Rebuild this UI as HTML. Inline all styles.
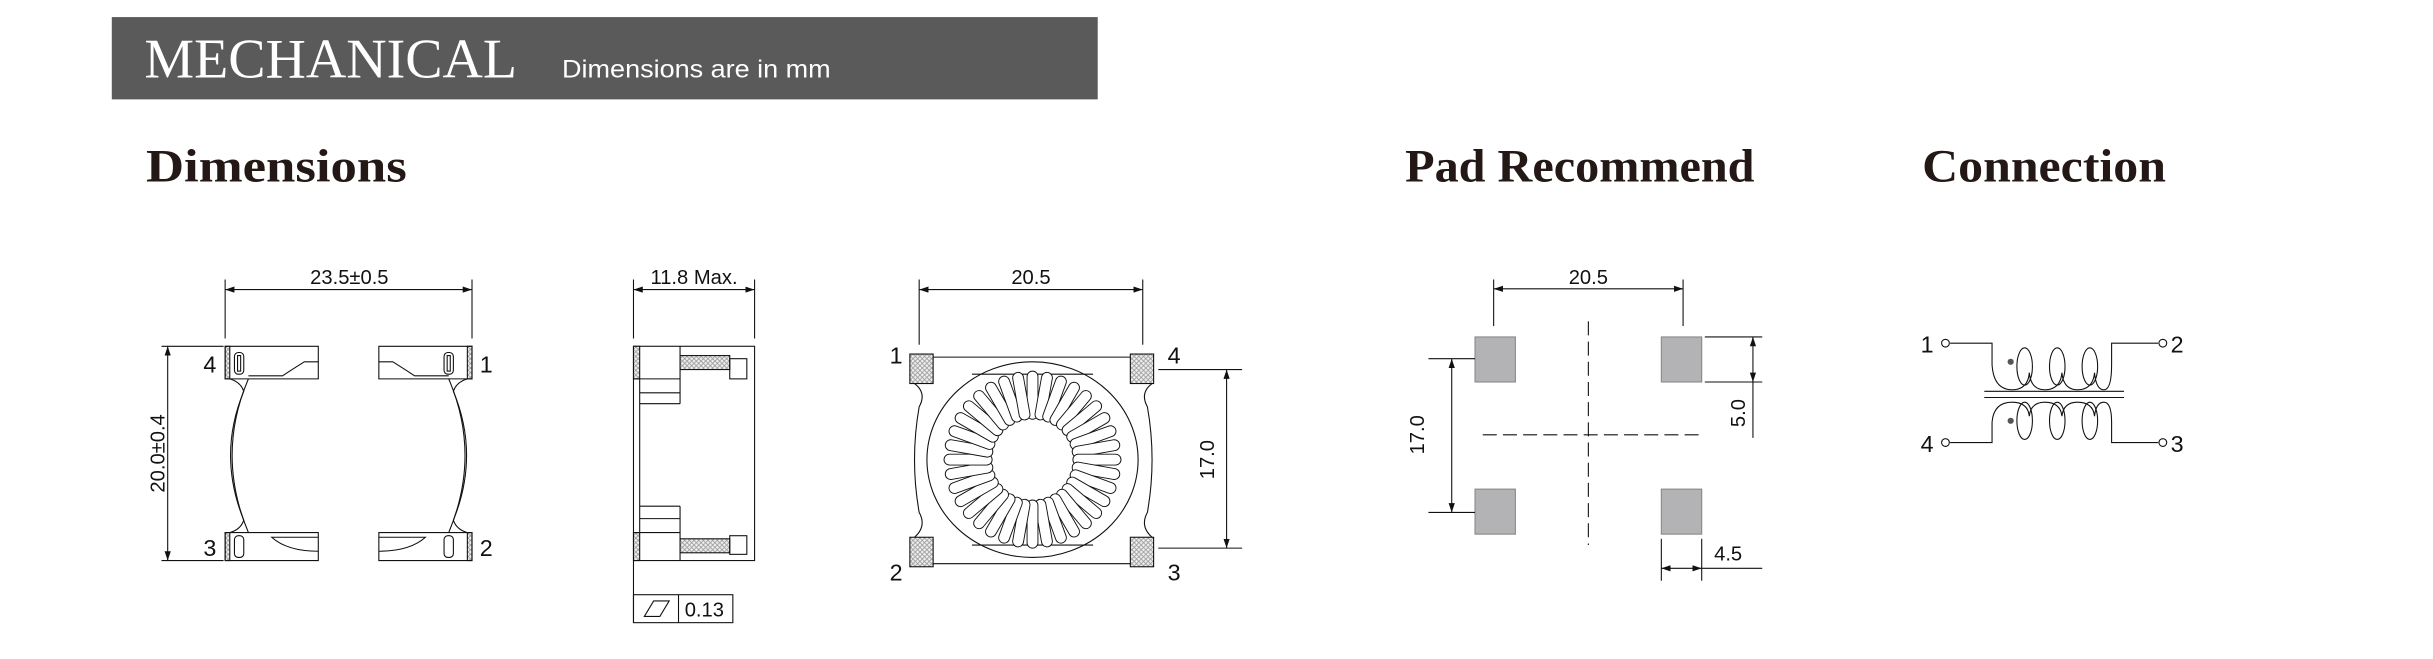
<!DOCTYPE html>
<html><head><meta charset="utf-8"><style>
html,body{margin:0;padding:0;background:#fff;width:2433px;height:659px;overflow:hidden}
svg{display:block}
.t{font-family:"Liberation Sans",sans-serif;font-size:13px;fill:#111}
.h{font-family:"Liberation Serif",serif;font-weight:bold;font-size:30px;fill:#231815}
</style></head><body>
<svg width="2433" height="659" viewBox="0 0 1567 424.4" preserveAspectRatio="none" xmlns="http://www.w3.org/2000/svg">
<defs>
<pattern id="hx" width="3" height="3" patternUnits="userSpaceOnUse">
<rect width="3" height="3" fill="#eee"/>
<path d="M0,0L3,3M3,0L0,3" stroke="#999" stroke-width="0.5"/>
</pattern>
<marker id="ar" markerWidth="6" markerHeight="4" refX="6" refY="2" orient="auto-start-reverse" markerUnits="userSpaceOnUse"><path d="M0,0L6,2L0,4z" fill="#111"/></marker>
</defs>
<rect x="72" y="11" width="635" height="53" fill="#5b5a5b"/>
<text x="93" y="50" textLength="240" lengthAdjust="spacingAndGlyphs" style="font-family:'Liberation Serif',serif;font-size:36px;fill:#fff">MECHANICAL</text>
<text x="362" y="50" textLength="173" lengthAdjust="spacingAndGlyphs" style="font-family:'Liberation Sans',sans-serif;font-size:16px;fill:#fff">Dimensions are in mm</text>
<text x="94" y="117" class="h" textLength="168" lengthAdjust="spacingAndGlyphs">Dimensions</text>
<text x="905" y="117" class="h" textLength="225" lengthAdjust="spacingAndGlyphs">Pad Recommend</text>
<text x="1238" y="117" class="h" textLength="157" lengthAdjust="spacingAndGlyphs">Connection</text>

<g fill="none" stroke="#111" stroke-width="0.7">
<!-- View 1 -->
<line x1="145" y1="180" x2="145" y2="218"/><line x1="304" y1="180" x2="304" y2="218"/>
<line x1="145" y1="186.5" x2="304" y2="186.5" marker-start="url(#ar)" marker-end="url(#ar)"/>
<line x1="104" y1="223" x2="144" y2="223"/><line x1="104" y1="361" x2="144" y2="361"/>
<line x1="108" y1="223" x2="108" y2="361" marker-start="url(#ar)" marker-end="url(#ar)"/>
<rect x="145" y="223" width="3" height="21" fill="url(#hx)"/><rect x="301" y="223" width="3" height="21" fill="url(#hx)"/>
<rect x="145" y="343" width="3" height="18" fill="url(#hx)"/><rect x="301" y="343" width="3" height="18" fill="url(#hx)"/>
<path d="M145,223H205V244H145Z M244,223H304V244H244Z M145,343H205V361H145Z M244,343H304V361H244Z"/>
<path d="M205,233H196Q188,238 182,242H160 M244,233H253Q261,238 267,242H289"/>
<path d="M205,346H175Q185,355 205,355 M244,346H274Q264,355 244,355"/>
<rect x="151" y="227" width="6" height="14" rx="2.5"/><rect x="153" y="229" width="2" height="10"/>
<rect x="286" y="227" width="6" height="14" rx="2.5"/><rect x="288" y="229" width="2" height="10"/>
<rect x="151" y="345" width="6" height="14" rx="2.5"/><rect x="286" y="345" width="6" height="14" rx="2.5"/>
<path d="M148,244Q155,246 157,252Q140,293 157,335Q155,341 148,343"/>
<path d="M301,244Q294,246 292,252Q309,293 292,335Q294,341 301,343"/>
<path d="M160,244Q139,293 160,343M289,244Q310,293 289,343"/>

<!-- View 2 -->
<line x1="408" y1="180" x2="408" y2="218"/><line x1="486" y1="180" x2="486" y2="218"/>
<line x1="408" y1="186.5" x2="486" y2="186.5" marker-start="url(#ar)" marker-end="url(#ar)"/>
<rect x="408" y="223" width="78" height="138"/>
<rect x="408" y="223" width="4" height="21" fill="url(#hx)"/><rect x="408" y="343" width="4" height="18" fill="url(#hx)"/>
<path d="M408,244H438V223 M412,244V343 M412,253H438M412,260H438M438,244V260 M412,334H438M412,326H438M438,326V343 M408,343H438V361"/>
<rect x="438" y="229" width="32" height="9" fill="url(#hx)"/><rect x="470" y="231" width="11" height="13"/>
<rect x="438" y="347" width="32" height="9" fill="url(#hx)"/><rect x="470" y="345" width="11" height="12"/>
<line x1="408" y1="361" x2="408" y2="401"/>
<rect x="408" y="383" width="64" height="18"/><line x1="437" y1="383" x2="437" y2="401"/>
<path d="M415,397L421,387H431L425,397Z"/>

<!-- View 3 -->
<line x1="592" y1="180" x2="592" y2="222"/><line x1="736" y1="180" x2="736" y2="222"/>
<line x1="592" y1="186.5" x2="736" y2="186.5" marker-start="url(#ar)" marker-end="url(#ar)"/>
<path d="M601,230H728M601,363H728M589,247Q597,253 592,262Q586,296 592,330Q597,339 589,346M742,247Q734,253 739,262Q745,296 739,330Q734,339 742,346"/>
<rect x="586" y="228" width="15" height="19" fill="url(#hx)"/><rect x="728" y="228" width="15" height="19" fill="url(#hx)"/>
<rect x="586" y="346" width="15" height="19" fill="url(#hx)"/><rect x="728" y="346" width="15" height="19" fill="url(#hx)"/>
<path d="M626,241H704M626,351H704"/>
<ellipse cx="665" cy="296" rx="68" ry="63"/>
<circle cx="665" cy="296" r="27"/>
<g id="wind"><rect x="661.5" y="239" width="7" height="31" rx="3.5" fill="#fff" stroke-width="0.6"/></g>
<g>
<use href="#wind" transform="rotate(10 665 296)"/><use href="#wind" transform="rotate(20 665 296)"/><use href="#wind" transform="rotate(30 665 296)"/><use href="#wind" transform="rotate(40 665 296)"/><use href="#wind" transform="rotate(50 665 296)"/><use href="#wind" transform="rotate(60 665 296)"/><use href="#wind" transform="rotate(70 665 296)"/><use href="#wind" transform="rotate(80 665 296)"/><use href="#wind" transform="rotate(90 665 296)"/><use href="#wind" transform="rotate(100 665 296)"/><use href="#wind" transform="rotate(110 665 296)"/><use href="#wind" transform="rotate(120 665 296)"/><use href="#wind" transform="rotate(130 665 296)"/><use href="#wind" transform="rotate(140 665 296)"/><use href="#wind" transform="rotate(150 665 296)"/><use href="#wind" transform="rotate(160 665 296)"/><use href="#wind" transform="rotate(170 665 296)"/><use href="#wind" transform="rotate(180 665 296)"/><use href="#wind" transform="rotate(190 665 296)"/><use href="#wind" transform="rotate(200 665 296)"/><use href="#wind" transform="rotate(210 665 296)"/><use href="#wind" transform="rotate(220 665 296)"/><use href="#wind" transform="rotate(230 665 296)"/><use href="#wind" transform="rotate(240 665 296)"/><use href="#wind" transform="rotate(250 665 296)"/><use href="#wind" transform="rotate(260 665 296)"/><use href="#wind" transform="rotate(270 665 296)"/><use href="#wind" transform="rotate(280 665 296)"/><use href="#wind" transform="rotate(290 665 296)"/><use href="#wind" transform="rotate(300 665 296)"/><use href="#wind" transform="rotate(310 665 296)"/><use href="#wind" transform="rotate(320 665 296)"/><use href="#wind" transform="rotate(330 665 296)"/><use href="#wind" transform="rotate(340 665 296)"/><use href="#wind" transform="rotate(350 665 296)"/>
</g>
<line x1="746" y1="238" x2="800" y2="238"/><line x1="746" y1="353" x2="800" y2="353"/>
<line x1="790" y1="238" x2="790" y2="353" marker-start="url(#ar)" marker-end="url(#ar)"/>

<!-- Pad recommend -->
<line x1="962" y1="180" x2="962" y2="210"/><line x1="1084" y1="180" x2="1084" y2="210"/>
<line x1="962" y1="186" x2="1084" y2="186" marker-start="url(#ar)" marker-end="url(#ar)"/>
<g fill="#b3b3b5" stroke="#888">
<rect x="950" y="217" width="26" height="29"/><rect x="1070" y="217" width="26" height="29"/>
<rect x="950" y="315" width="26" height="29"/><rect x="1070" y="315" width="26" height="29"/>
</g>
<line x1="1023" y1="207" x2="1023" y2="351" stroke-dasharray="9,4"/>
<line x1="955" y1="280" x2="1095" y2="280" stroke-dasharray="9,4"/>
<line x1="920" y1="231" x2="950" y2="231"/><line x1="920" y1="330" x2="950" y2="330"/>
<line x1="935" y1="231" x2="935" y2="330" marker-start="url(#ar)" marker-end="url(#ar)"/>
<line x1="1098" y1="217" x2="1135" y2="217"/><line x1="1098" y1="246" x2="1135" y2="246"/>
<line x1="1129" y1="217" x2="1129" y2="282"/>
<line x1="1129" y1="220" x2="1129" y2="217" marker-end="url(#ar)"/><line x1="1129" y1="240" x2="1129" y2="246" marker-end="url(#ar)"/>
<line x1="1070" y1="347" x2="1070" y2="374"/><line x1="1096" y1="347" x2="1096" y2="374"/>
<line x1="1070" y1="366" x2="1096" y2="366" marker-start="url(#ar)" marker-end="url(#ar)"/>
<line x1="1096" y1="366" x2="1135" y2="366"/>

<!-- Connection -->
<circle cx="1253" cy="221" r="2.5"/><circle cx="1393" cy="221" r="2.5"/>
<circle cx="1253" cy="285" r="2.5"/><circle cx="1393" cy="285" r="2.5"/>
<path d="M1256,221H1283V235Q1284,251 1296,251Q1306,251 1307,240Q1308,251 1317,251Q1327,251 1328,240Q1329,251 1338,251Q1348,251 1349,240Q1350,251 1355,251Q1360,251 1360,235V221H1390"/>
<ellipse cx="1304" cy="236" rx="5" ry="12"/><ellipse cx="1325" cy="236" rx="5" ry="12"/><ellipse cx="1346" cy="236" rx="5" ry="12"/>
<line x1="1278" y1="252" x2="1368" y2="252"/><line x1="1278" y1="256" x2="1368" y2="256"/>
<path d="M1256,285H1283V272Q1284,259 1296,259Q1306,259 1307,268Q1308,259 1317,259Q1327,259 1328,268Q1329,259 1338,259Q1348,259 1349,268Q1350,259 1355,259Q1360,259 1360,272V285H1390"/>
<ellipse cx="1304" cy="271" rx="5" ry="12"/><ellipse cx="1325" cy="271" rx="5" ry="12"/><ellipse cx="1346" cy="271" rx="5" ry="12"/>
</g>
<circle cx="1295" cy="233" r="2" fill="#555"/><circle cx="1295" cy="271" r="2" fill="#555"/>

<!-- labels -->
<g class="t">
<text x="225" y="183" text-anchor="middle">23.5±0.5</text>
<text x="102" y="292" text-anchor="middle" transform="rotate(-90 102 292)" dy="4">20.0±0.4</text>
<text x="131" y="240" font-size="15">4</text><text x="309" y="240" font-size="15">1</text>
<text x="131" y="358" font-size="15">3</text><text x="309" y="358" font-size="15">2</text>
<text x="447" y="183" text-anchor="middle">11.8 Max.</text>
<text x="441" y="397">0.13</text>
<text x="664" y="183" text-anchor="middle">20.5</text>
<text x="573" y="234" font-size="15">1</text><text x="752" y="234" font-size="15">4</text>
<text x="573" y="374" font-size="15">2</text><text x="752" y="374" font-size="15">3</text>
<text x="778" y="296" text-anchor="middle" transform="rotate(-90 778 296)" dy="4">17.0</text>
<text x="1023" y="183" text-anchor="middle">20.5</text>
<text x="913" y="280" text-anchor="middle" transform="rotate(-90 913 280)" dy="4">17.0</text>
<text x="1120" y="266" text-anchor="middle" transform="rotate(-90 1120 266)" dy="4">5.0</text>
<text x="1104" y="361">4.5</text>
<text x="1237" y="227" font-size="15">1</text><text x="1398" y="227" font-size="15">2</text>
<text x="1237" y="291" font-size="15">4</text><text x="1398" y="291" font-size="15">3</text>
</g>
</svg>
</body></html>
